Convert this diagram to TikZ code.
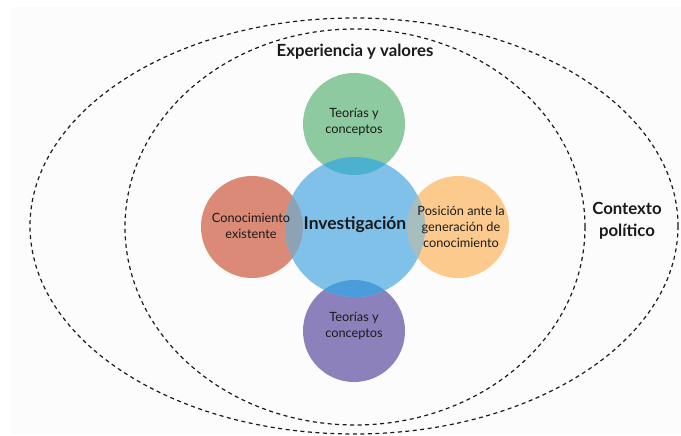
\documentclass[tikz,border=0pt]{standalone}
\usepackage{fontspec}
\setmainfont{Lato}
\usepackage{xcolor}
\usepackage{tikz}

\definecolor{bgc}{HTML}{FBFCFB}
\definecolor{greenc}{HTML}{8DCA9F}
\definecolor{bluec}{HTML}{80C1EA}
\definecolor{redc}{HTML}{DA8A77}
\definecolor{orangec}{HTML}{FDCA8E}
\definecolor{purplec}{HTML}{8D81BC}
\definecolor{greenblue}{HTML}{4CB1CF}
\definecolor{purpleblue}{HTML}{4B9CDA}
\definecolor{redblue}{HTML}{8DA2B4}
\definecolor{orangeblue}{HTML}{A8BDBE}
\definecolor{inkc}{HTML}{1A1A1A}

\tikzset{
  frontier/.style={draw=inkc, line width=1.2bp, dash pattern=on 4bp off 3.5bp},
  smalltext/.style={align=center, text=inkc, font=\fontsize{12.8}{16}\selectfont},
  bigtext/.style={align=center, text=inkc, font=\fontsize{16.8}{22}\selectfont\bfseries}
}

\begin{document}
\begin{tikzpicture}[x=1bp,y=-1bp]
                % Canvas and background
                \useasboundingbox (0,0) rectangle (681,436);
                \fill[bgc] (11,7) rectangle (681,434);

                % Outer and inner dashed frontiers
                \draw[frontier] (354,226) ellipse [x radius=324, y radius=208];
                \draw[frontier] (355,227) ellipse [x radius=230, y radius=198];

                % Centres of the circles
                \coordinate (inv) at (355,227);
                \coordinate (teoTop) at (354,124);
                \coordinate (teoBot) at (354,331);
                \coordinate (conoc) at (252,227);
                \coordinate (posic) at (458,227);

                % Outer circles and the central one
                \fill[greenc] (teoTop) circle (51);
                \fill[purplec] (teoBot) circle (51);
                \fill[redc] (conoc) circle (51);
                \fill[orangec] (posic) circle (51);
                \fill[bluec] (inv) circle (70);

                % Overlaps with the central circle
                \begin{scope}
                  \clip (inv) circle (70);
                  \fill[greenblue] (teoTop) circle (51);
                  \fill[purpleblue] (teoBot) circle (51);
                  \fill[redblue] (conoc) circle (51);
                  \fill[orangeblue] (posic) circle (51);
                \end{scope}

                % Labels of the circles
                \node[smalltext] (teoTopText) at (354,122) {Teorías y\\conceptos};
                \node[smalltext] (teoBotText) at (354,326) {Teorías y\\conceptos};
                \node[smalltext] (conocText) at (251,226) {Conocimiento\\existente};
                \node[smalltext] (posicText) at (461,227) {Posición ante la\\generación de\\conocimiento};
                \node[bigtext, font=\fontsize{17.5}{20}\selectfont\bfseries] (invText) at (355,225) {Investigación};

                % Labels of the frontiers
                \node[bigtext] (expText) at (355,52) {Experiencia y valores};
                \node[bigtext] (ctxText) at (627,221) {Contexto\\político};

            \end{tikzpicture}
\end{document}
